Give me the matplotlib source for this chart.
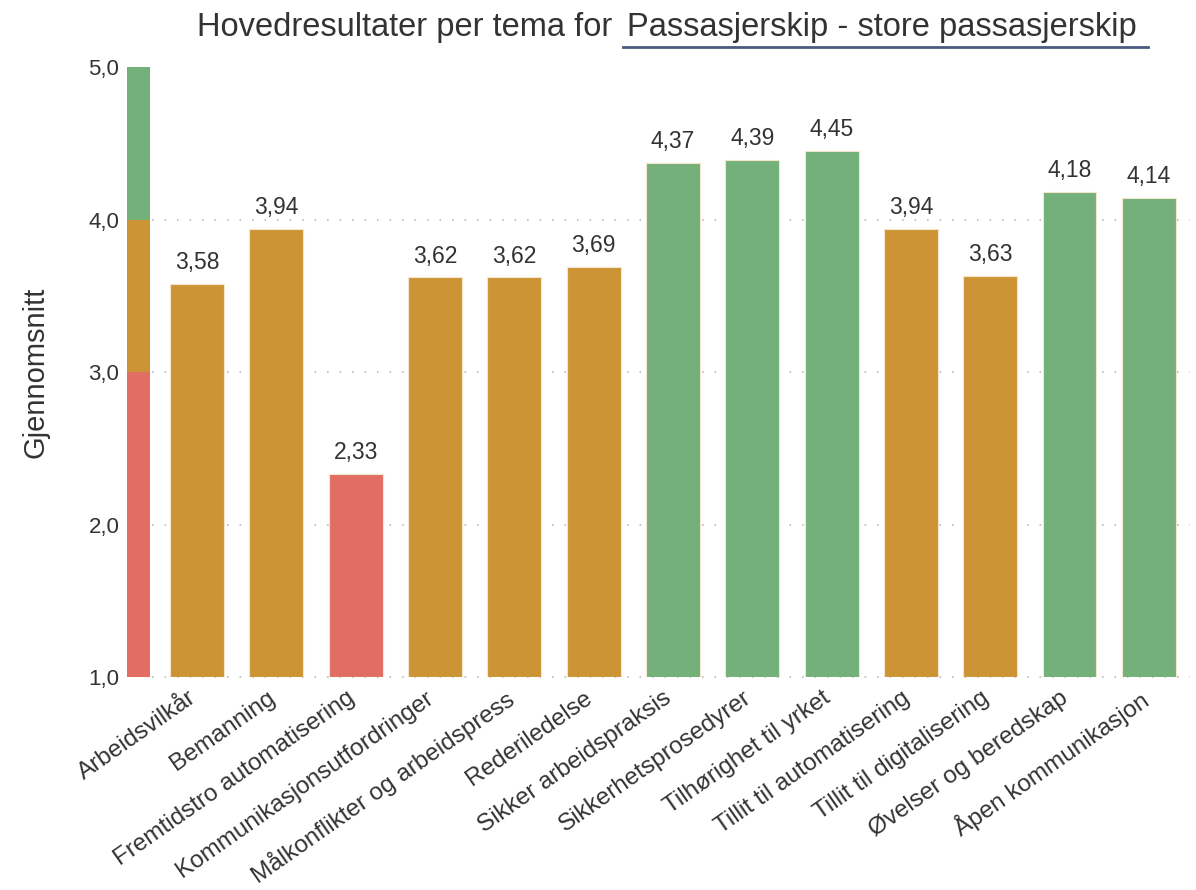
import numpy as np
import matplotlib.pyplot as plt

plt.rcParams['font.family'] = ['Liberation Sans', 'DejaVu Sans']

temaer = ['Arbeidsvilkår', 'Bemanning', 'Fremtidstro automatisering',
          'Kommunikasjonsutfordringer', 'Målkonflikter og arbeidspress',
          'Rederiledelse', 'Sikker arbeidspraksis', 'Sikkerhetsprosedyrer',
          'Tilhørighet til yrket', 'Tillit til automatisering',
          'Tillit til digitalisering', 'Øvelser og beredskap', 'Åpen kommunikasjon']
snitt = [3.58, 3.94, 2.33, 3.62, 3.62, 3.69, 4.37, 4.39, 4.45, 3.94, 3.63, 4.18, 4.14]

# fargeskala: rød < 3, gul 3-4, grønn >= 4
skala_grenser = [1, 3, 4, 5]
RED, ORANGE, GREEN = '#E26E63', '#CC9434', '#73B07A'
skala_farger = [RED, ORANGE, GREEN]
TEXT = '#333333'


def farge(v):
    if v < 3:
        return RED
    if v < 4:
        return ORANGE
    return GREEN


fig = plt.figure(figsize=(11.96, 8.9), dpi=100, facecolor='w')
ax = fig.add_axes([0.1045, 0.2393, 0.8905, 0.6854])

x = np.arange(len(temaer))
ax.bar(x, np.array(snitt) - 1, bottom=1, width=0.68,
       color=[farge(v) for v in snitt], edgecolor='#f3e6cc', linewidth=0.8, zorder=3)

# skala-stolpe til venstre
for i in range(3):
    ax.bar(-0.74, skala_grenser[i + 1] - skala_grenser[i], bottom=skala_grenser[i],
           width=0.29, color=skala_farger[i], linewidth=0, zorder=3)

for xi, v in zip(x, snitt):
    ax.text(xi, v + 0.065, f'{v:.2f}'.replace('.', ','), ha='center', va='bottom',
            fontsize=16.5, color=TEXT)

ax.set_xlim(-0.91, 12.52)
ax.set_ylim(1, 5)
ax.set_yticks([1, 2, 3, 4, 5])
ax.set_yticklabels(['1,0', '2,0', '3,0', '4,0', '5,0'], fontsize=16, color=TEXT)
for g in [1, 2, 3, 4]:
    ax.plot([-0.57, 12.52], [g, g], linestyle=(0, (1, 6.5)), color='#bbbbbb',
            linewidth=1.2, zorder=1, clip_on=False)

# kategorinavn, litt forskjøvet til venstre for stolpemidten
ax.set_xticks(x)
ax.set_xticklabels([])
for xi, navn in zip(x, temaer):
    ax.annotate(navn, xy=(xi, 0), xycoords=ax.get_xaxis_transform(),
                xytext=(-7, -7), textcoords='offset points',
                rotation=35, ha='right', va='top', rotation_mode='anchor',
                fontsize=17.5, color=TEXT)
ax.tick_params(axis='both', length=0, pad=4)
for s in ax.spines.values():
    s.set_visible(False)

ax.set_ylabel('Gjennomsnitt', fontsize=21, color=TEXT, labelpad=28)

fig.text(0.512, 0.969, 'Hovedresultater per tema for', ha='right', va='center',
         fontsize=23.5, color=TEXT)
fig.text(0.524, 0.969, 'Passasjerskip - store passasjerskip', ha='left', va='center',
         fontsize=23.5, color=TEXT)
fig.add_artist(plt.Line2D([0.521, 0.960], [0.947, 0.947], color='#4A5A80', linewidth=2))

fig.savefig('out.png', dpi=100)
